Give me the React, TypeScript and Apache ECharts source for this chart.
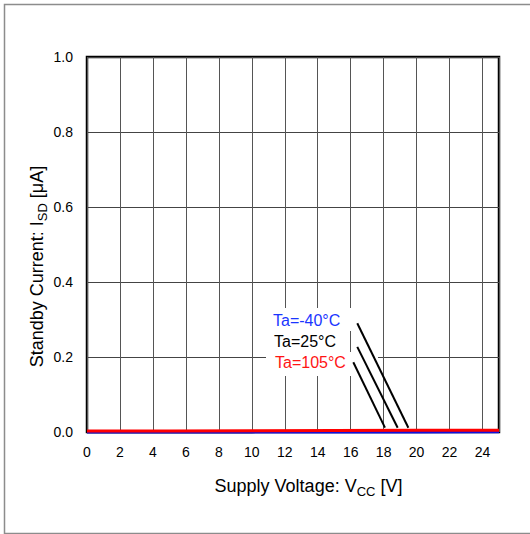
import React, { useEffect, useRef } from "react";
import * as echarts from "echarts";

// Supply voltage sample points [V]
const vccValues = [0, 5, 10, 15, 20, 25];
// Standby current [µA] per temperature
const isdM40 = [0, 0, 0, 0, 0, 0.0005];
const isd25 = [0.001, 0.001, 0.001, 0.0015, 0.002, 0.002];
const isd105 = [0.003, 0.003, 0.0035, 0.004, 0.0045, 0.005];

const xTicks = [0, 2, 4, 6, 8, 10, 12, 14, 16, 18, 20, 22, 24];
const yTicks = [0, 0.2, 0.4, 0.6, 0.8, 1.0];

// Leader lines (data coordinates): label end -> curve
const leadM40 = [[16.4, 0.29], [19.5, 0.0115]];
const lead25 = [[16.4, 0.227], [18.85, 0.0115]];
const lead105 = [[16.16, 0.186], [18.08, 0.0115]];

const labelM40 = "Ta=-40°C";
const label25 = "Ta=25°C";
const label105 = "Ta=105°C";

const FONT = '"Liberation Sans", Arial, sans-serif';
const BLUE = "#1a35ff";
const RED = "#ff1414";

export default function App() {
  const ref = useRef<HTMLDivElement>(null);
  useEffect(() => {
    if (!ref.current) return;
    const chart = echarts.init(ref.current, null, { renderer: "svg" });
    const pair = (ys: number[]) => vccValues.map((x, i) => [x, ys[i]]);
    const subStyle = { fontSize: 13, fontFamily: FONT, fill: "#000", padding: [10, 0, 0, 0] };
    chart.setOption({
      animation: false,
      backgroundColor: "#fff",
      grid: {
        left: 87,
        right: 31,
        top: 57,
        bottom: 102,
        show: true,
        borderColor: "#000",
        borderWidth: 2.5,
        backgroundColor: "transparent",
      },
      xAxis: {
        type: "value",
        min: 0,
        max: 25,
        interval: 2,
        axisLine: { show: false },
        axisTick: { show: false },
        axisLabel: {
          fontSize: 14,
          fontFamily: FONT,
          color: "#000",
          margin: 13,
          showMaxLabel: false,
          formatter: (v: number) => (xTicks.includes(v) ? String(v) : ""),
        },
        splitLine: { show: true, lineStyle: { color: "#555", width: 1 } },
      },
      yAxis: {
        type: "value",
        min: 0,
        max: 1,
        interval: 0.2,
        axisLine: { show: false },
        axisTick: { show: false },
        axisLabel: {
          fontSize: 14,
          fontFamily: FONT,
          color: "#000",
          margin: 14,
          formatter: (v: number) =>
            yTicks.some((t) => Math.abs(t - v) < 1e-9) ? v.toFixed(1) : "",
        },
        splitLine: { show: true, lineStyle: { color: "#444", width: 1 } },
      },
      series: [
        {
          type: "line",
          data: pair(isd25),
          showSymbol: false,
          clip: false,
          lineStyle: { color: "#000", width: 3 },
          z: 3,
        },
        {
          type: "line",
          data: pair(isdM40),
          showSymbol: false,
          clip: false,
          lineStyle: { color: "#1010e0", width: 3 },
          z: 4,
        },
        {
          type: "line",
          data: pair(isd105),
          showSymbol: false,
          clip: false,
          lineStyle: { color: "#ff0000", width: 3 },
          z: 5,
        },
        ...[leadM40, lead25, lead105].map((d) => ({
          type: "line",
          data: d,
          showSymbol: false,
          lineStyle: { color: "#000", width: 2 },
          z: 6,
        })),
      ],
      graphic: [
        {
          type: "rect",
          shape: { x: 4.5, y: 4.5, width: 600, height: 529 },
          style: { fill: "none", stroke: "#8c8c8c", lineWidth: 1.5 },
          z: 0,
        },
        {
          type: "rect",
          shape: { x: 266, y: 308, width: 92, height: 23 },
          style: { fill: "#fff" },
          z: 1,
        },
        {
          type: "rect",
          shape: { x: 266, y: 331, width: 79, height: 21 },
          style: { fill: "#fff" },
          z: 1,
        },
        {
          type: "rect",
          shape: { x: 266, y: 352, width: 112, height: 24 },
          style: { fill: "#fff" },
          z: 1,
        },
        {
          type: "text",
          x: 273,
          y: 320,
          z: 10,
          style: { text: labelM40, fill: BLUE, fontSize: 16, fontFamily: FONT, align: "left", verticalAlign: "middle" },
        },
        {
          type: "text",
          x: 274,
          y: 341,
          z: 10,
          style: { text: label25, fill: "#000", fontSize: 16, fontFamily: FONT, align: "left", verticalAlign: "middle" },
        },
        {
          type: "text",
          x: 275,
          y: 362,
          z: 10,
          style: { text: label105, fill: RED, fontSize: 16, fontFamily: FONT, align: "left", verticalAlign: "middle" },
        },
        {
          type: "text",
          x: 308.5,
          y: 486,
          z: 10,
          style: {
            text: "Supply Voltage: V{sub|CC} [V]",
            fill: "#000",
            fontSize: 18,
            fontFamily: FONT,
            align: "center",
            verticalAlign: "middle",
            rich: { sub: subStyle },
          },
        },
        {
          type: "text",
          x: 37,
          y: 266.5,
          rotation: Math.PI / 2,
          z: 10,
          style: {
            text: "Standby Current: I{sub|SD} [μA]",
            fill: "#000",
            fontSize: 18,
            fontFamily: FONT,
            align: "center",
            verticalAlign: "middle",
            rich: { sub: subStyle },
          },
        },
      ],
    });
    return () => chart.dispose();
  }, []);
  return (
    <div
      ref={ref}
      style={{ position: "absolute", left: 0, top: 0, width: 530, height: 534, background: "#fff" }}
    />
  );
}
